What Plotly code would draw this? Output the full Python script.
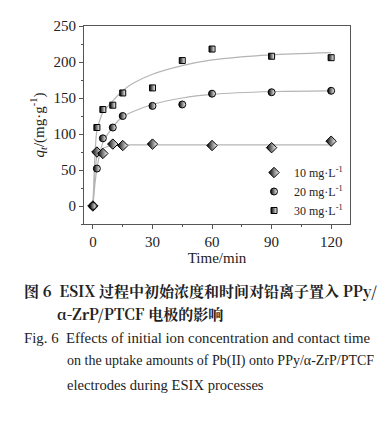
import plotly.graph_objects as go

# ---- data ----
t_10 = [0, 2, 5, 10, 15, 30, 60, 90, 120]
q_10 = [0, 75, 73, 86, 84, 86, 84, 81, 90]

t_20 = [0, 2, 5, 10, 15, 30, 45, 60, 90, 120]
q_20 = [0, 52, 94, 109, 125, 139, 141, 156, 158, 160]

t_30 = [2, 5, 10, 15, 30, 45, 60, 90, 120]
q_30 = [109, 134, 140, 157, 164, 202, 218, 208, 206]

# fitted curves
fit_t = [0, 1, 2, 5, 10, 15, 20, 30, 45, 60, 90, 120]
fit_10 = [0, 45, 68, 80, 84, 85, 85, 85, 85, 85, 85, 85]
fit_20 = [0, 30, 52, 88, 110, 124, 131, 141, 150, 155, 159, 160]
fit_30 = [0, 70, 105, 130, 146, 160, 170, 183, 195, 203, 210, 213]

legend_names = ["10 mg·L<sup>-1</sup>", "20 mg·L<sup>-1</sup>", "30 mg·L<sup>-1</sup>"]
x_ticks = [0, 30, 60, 90, 120]
y_ticks = [0, 50, 100, 150, 200, 250]

SERIF = "Liberation Serif, Times New Roman, serif"
fig = go.Figure()

line_style = dict(color="#b5b5b5", width=1.2, shape="spline", smoothing=0.6)
for yy in (fit_10, fit_20, fit_30):
    fig.add_trace(go.Scatter(x=fit_t, y=yy, mode="lines", line=line_style,
                             showlegend=False, hoverinfo="skip"))

def mk(symbol, size):
    return dict(symbol=symbol, size=size, color="black",
                gradient=dict(type="horizontal", color="white"),
                line=dict(color="black", width=1))

fig.add_trace(go.Scatter(x=t_10, y=q_10, mode="markers", name=legend_names[0],
                         marker=mk("diamond", 8)))
fig.add_trace(go.Scatter(x=t_20, y=q_20, mode="markers", name=legend_names[1],
                         marker=mk("circle", 7)))
fig.add_trace(go.Scatter(x=t_30, y=q_30, mode="markers", name=legend_names[2],
                         marker=mk("square", 6)))

OFF = 8  # page body margin
W, H = 387 - 2 * OFF, 424 - 2 * OFF
# plot area in page pixels
L, R, T, B = 84, 350, 26, 224
Lf, Rf, Tf, Bf = L - OFF, R - OFF, T - OFF, B - OFF

def px(x):
    return (x - L) / (R - L)

def py(y):
    return (B - y) / (B - T)

axis_common = dict(showline=True, linecolor="#555", linewidth=1, mirror=True,
                   ticks="outside", ticklen=4, tickcolor="#555", showgrid=False,
                   zeroline=False, automargin=False,
                   tickfont=dict(family=SERIF, size=15, color="#222"))

fig.update_layout(
    width=W, height=H,
    margin=dict(l=Lf, r=W - Rf, t=Tf, b=H - Bf),
    paper_bgcolor="white", plot_bgcolor="white",
    xaxis=dict(range=[-4.5, 129.5], tickvals=x_ticks,
               minor=dict(dtick=15, tick0=0, ticks="outside", ticklen=2, tickcolor="#555"),
               title=dict(text="Time/min", font=dict(family=SERIF, size=15, color="#222"), standoff=0),
               **axis_common),
    yaxis=dict(range=[-25, 250], tickvals=y_ticks,
               minor=dict(dtick=25, tick0=0, ticks="outside", ticklen=2, tickcolor="#555"),
               title=dict(text="<i>q</i><sub><i>t</i></sub>/(mg·g<sup>-1</sup>)",
                          font=dict(family=SERIF, size=15, color="#222"), standoff=5),
               **axis_common),
    legend=dict(x=px(254), y=py(158), xanchor="left", yanchor="top",
                bgcolor="rgba(0,0,0,0)", font=dict(family=SERIF, size=12, color="#222"),
                itemwidth=30, tracegroupgap=0),
    showlegend=True,
)

CJK = "Noto Serif CJK SC, Noto Sans CJK SC, serif"
captions = [
    (22, 290, "<b>图 6  ESIX 过程中初始浓度和时间对铅离子置入 PPy/</b>", CJK, 15.0),
    (55, 313, "<b>α-ZrP/PTCF 电极的影响</b>", CJK, 15.0),
    (22, 338, "Fig. 6  Effects of initial ion concentration and contact time", SERIF, 14.8),
    (65, 361, "on the uptake amounts of Pb(II) onto PPy/α-ZrP/PTCF", SERIF, 14.0),
    (65, 385, "electrodes during ESIX processes", SERIF, 14.6),
]
for x0, y0, txt, fam, sz in captions:
    fig.add_annotation(x=px(x0), y=py(y0), xref="paper", yref="paper", text=txt,
                       showarrow=False, xanchor="left", yanchor="middle",
                       font=dict(family=fam, size=sz, color="#222"))

fig.write_html("out.html")
